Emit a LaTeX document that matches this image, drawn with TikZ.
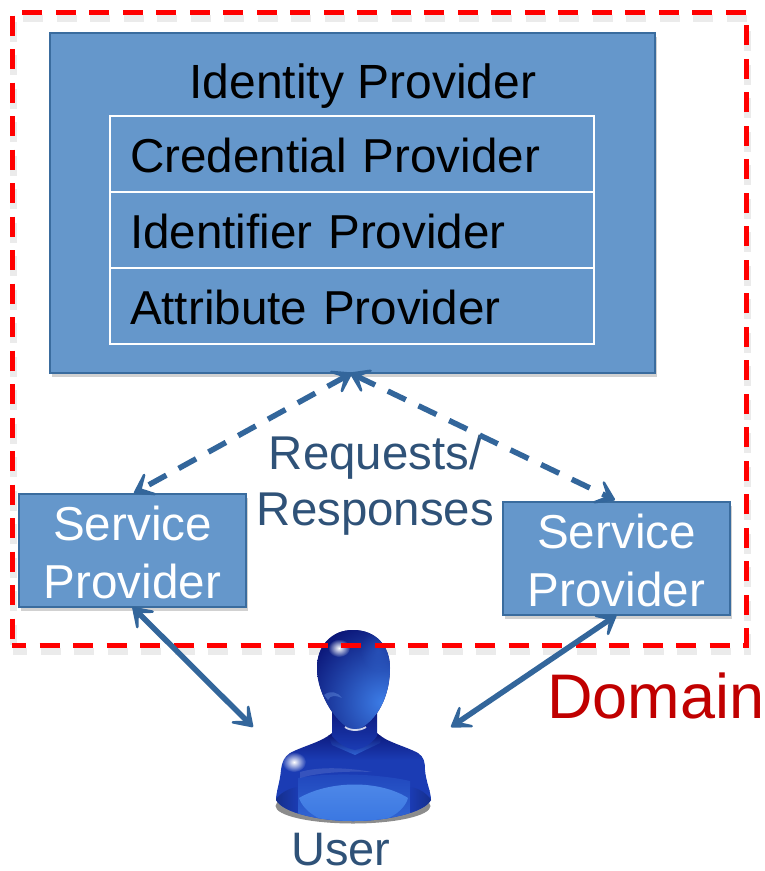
\documentclass[tikz,border=0pt]{standalone}
\usepackage{fontspec}
\setmainfont{Liberation Sans}
\usetikzlibrary{arrows.meta,shadows,fadings}
\definecolor{boxfill}{HTML}{6597CB}
\definecolor{boxedge}{HTML}{3A6C9E}
\definecolor{arrowblue}{HTML}{33669B}
\definecolor{labelblue}{HTML}{2F5278}
\definecolor{domainred}{HTML}{C00000}
\definecolor{pdark}{HTML}{0B1678}
\definecolor{pmid}{HTML}{1B3CB4}
\definecolor{plight}{HTML}{3C7CE6}
\tikzfading[name=softglow,inner color=transparent!0,outer color=transparent!100]
\tikzset{
  softshadow/.style={drop shadow={shadow xshift=2pt,shadow yshift=-4pt,opacity=.18,fill=black}},
  bluebox/.style={draw=boxedge,line width=1.6pt,fill=boxfill,softshadow,inner sep=0pt,outer sep=0pt},
  rowbox/.style={draw=white,line width=1.6pt,fill=boxfill,anchor=north west,inner ysep=0pt,inner xsep=20pt,outer sep=0pt,
     minimum width=484pt,text width=444pt,align=left,text height=37pt,text depth=0pt,
     font=\fontsize{47.6}{57}\selectfont},
  splabel/.style={bluebox,minimum width=227pt,minimum height=113pt,anchor=north west,text=white,
     align=center,text height=95pt,text depth=0pt,font=\fontsize{47.6}{58}\selectfont},
  tipbarb/.tip={Stealth[length=27pt,width=36pt,inset=17pt,round,line width=4.5pt]},
  dashflow/.style={draw=arrowblue,line width=5.5pt,dash pattern=on 20pt off 14pt,tipbarb-tipbarb},
  solidflow/.style={draw=arrowblue,line width=5.5pt,tipbarb-tipbarb},
  caption/.style={inner sep=0pt,text=labelblue,align=center},
  domainframe/.style={line width=5pt,dash pattern=on 20pt off 13.5pt,dash phase=6pt,line join=miter,fill=none,
     anchor=north west,minimum width=734pt,minimum height=633pt,inner sep=0pt,outer sep=0pt},
  glow/.style={white,path fading=softglow,fit fading=true}
}
\begin{document}
\begin{tikzpicture}[x=1pt,y=-1pt]
\useasboundingbox (0,0) rectangle (765,871);

% shadow of the dashed frame
\node[domainframe,draw=black,opacity=.08,line width=7pt] (domshadow) at (13,18) {};

% identity provider
\node[bluebox,anchor=north west,minimum width=605pt,minimum height=340pt] (idp) at (50,33) {};
\node[anchor=base,inner sep=0pt,font=\fontsize{48}{57}\selectfont] (idptitle) at (363,98) {Identity Provider};
\node[rowbox,minimum height=76pt] (cred) at (110,116) {Credential Provider};
\node[rowbox,minimum height=76pt] (iden) at (110,192) {Identifier Provider};
\node[rowbox,minimum height=76pt] (attr) at (110,268) {Attribute Provider};

% service providers
\node[splabel] (spl) at (19,494) {Service\\Provider};
\node[splabel] (spr) at (503,502) {Service\\Provider};

% user figure
\begin{scope}
  \fill[black,opacity=.45] (353,806) ellipse (77.5pt and 17.5pt);
  % torso
  \begin{scope}
    \clip (332,733) .. controls (322,742) and (303,746) .. (290,753)
      .. controls (284,757) and (282,762) .. (281,770)
      .. controls (280,782) and (276,792) .. (276,800)
      .. controls (283,813) and (320,821) .. (353,821)
      .. controls (386,821) and (424,813) .. (431,800)
      .. controls (431,792) and (426,782) .. (425,770)
      .. controls (425,762) and (424,757) .. (418,753)
      .. controls (405,746) and (386,742) .. (377,733) -- cycle;
    \shade[top color=pdark,bottom color=pmid,middle color=pmid] (270,730) rectangle (440,790);
    \shade[top color=pmid,bottom color=pmid!80!plight] (270,790) rectangle (440,825);
    % collar
    \shade[top color=pdark,bottom color=plight!60!pmid]
      (328,735) -- (332,745) -- (355,755) -- (380,743) -- (382,735) -- cycle;
    % shirt front
    \shade[top color=pmid!85!plight,bottom color=plight!70!pmid]
      (298,778) .. controls (330,772) and (380,774) .. (410,781)
      -- (410,825) -- (298,825) -- cycle;
    \shade[top color=plight!90!white,bottom color=plight!90!pmid]
      (299,798) .. controls (330,780) and (380,780) .. (408,798)
      .. controls (404,812) and (385,825) .. (353,825)
      .. controls (322,825) and (304,812) .. (299,798) -- cycle;
    % hem
    \shade[left color=pmid!75!black,right color=pmid]
      (274,802) .. controls (280,792) and (290,788) .. (298,787) -- (298,825) -- (274,825) -- cycle;
    \shade[left color=pmid,right color=pmid!75!black]
      (433,802) .. controls (426,792) and (418,788) .. (410,787) -- (410,825) -- (433,825) -- cycle;
    % upper sheen
    \fill[white,opacity=.12] (300,772) .. controls (320,766) and (350,768) .. (372,772)
      .. controls (350,771) and (320,772) .. (300,778) -- cycle;
  \end{scope}
  % neck
  \shade[top color=pdark,bottom color=pmid]
    (332,706) -- (332,736) .. controls (338,743) and (345,748) .. (355,750)
    .. controls (365,748) and (372,743) .. (377,736) -- (377,706) -- cycle;
  % head
  \begin{scope}
    \clip (353,630) .. controls (376,630) and (390,646) .. (390,668)
      .. controls (390,695) and (378,722) .. (355,731)
      .. controls (338,727) and (317,695) .. (317,668)
      .. controls (317,646) and (331,630) .. (353,630) -- cycle;
    \fill[pdark] (310,625) rectangle (395,735);
    \shade[inner color=plight,outer color=pdark] (382,702) circle (82pt);
    \fill[plight,opacity=.3,path fading=softglow,fit fading=true] (378,650) ellipse (18pt and 22pt);
    % face swoosh
    \fill[plight!70!white,opacity=.35]
      (324,695) .. controls (330,690) and (338,692) .. (342,698)
      .. controls (336,695) and (330,695) .. (328,700) -- cycle;
  \end{scope}
  % highlights
  \fill[glow] (339,648) ellipse (11pt and 9pt);
  \fill[glow] (294,762) ellipse (12pt and 10pt);
  \draw[white,opacity=.8,line width=1.8pt] (345,727) .. controls (350,731) and (360,731) .. (366,727);
\end{scope}
\coordinate (uleft) at (253,727);
\coordinate (uright) at (451,727);
\node[caption,anchor=base,font=\fontsize{47}{50}\selectfont] (user) at (341,865) {User};

% domain
\node[domainframe,draw=red] (domain) at (12,12) {};
\node[anchor=base west,inner sep=0pt,text=domainred,font=\fontsize{63}{70}\selectfont] (domlabel) at (547,718) {Domain};

% labels
\node[caption,anchor=base,font=\fontsize{47.4}{56}\selectfont] (req) at (375.5,525) {Requests/\\Responses};

% connectors
\coordinate (idpl) at (352,373);
\coordinate (idpr) at (350,373);
\coordinate (sptl) at (134,493);
\coordinate (sptr) at (615,500);
\draw[dashflow] (idpl) -- (sptl);
\draw[dashflow] (idpr) -- (sptr);
\draw[solidflow] (spl.south) -- (uleft);
\draw[solidflow] (spr.south) -- (uright);
\end{tikzpicture}
\end{document}
